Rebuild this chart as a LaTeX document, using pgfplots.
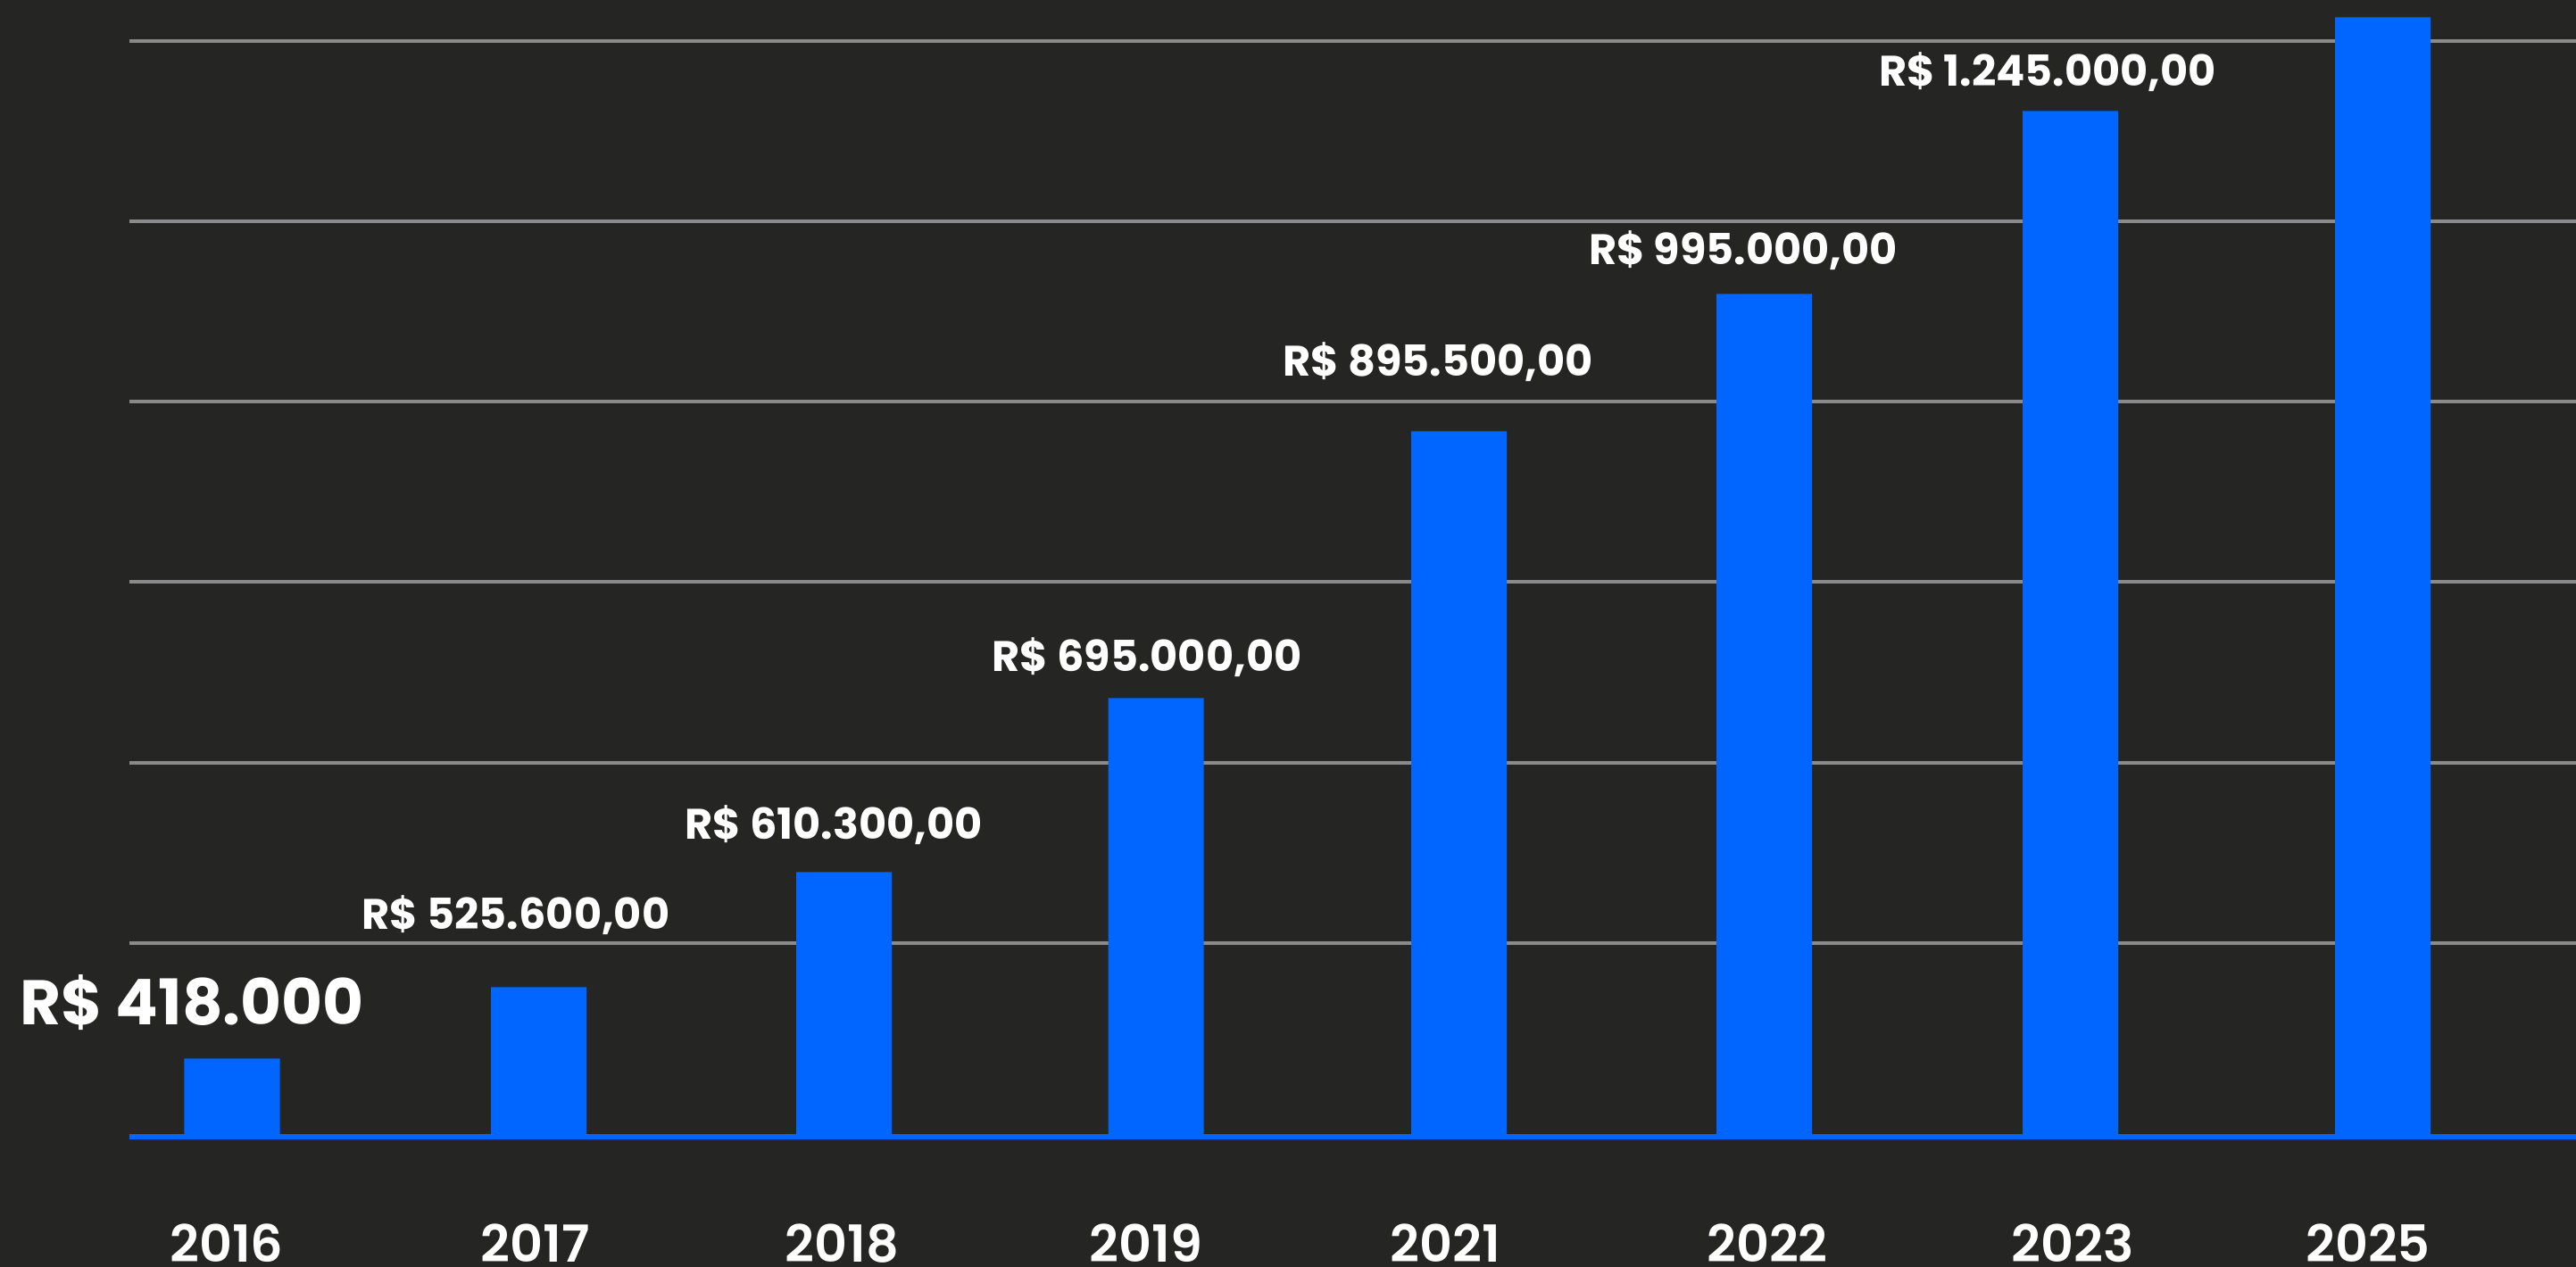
\documentclass[border=0pt]{standalone}
\usepackage{fontspec}
\setmainfont{Poppins}
\newfontfamily\popsemi{Poppins SemiBold}
\usepackage{pgfplots}
\pgfplotsset{compat=1.18}
\definecolor{bgCol}{RGB}{37,37,35}
\definecolor{barCol}{RGB}{0,102,255}
\definecolor{gridCol}{RGB}{138,138,138}
\tikzset{
  val/.style={anchor=base,text=white,inner sep=0pt,
              font=\bfseries\fontsize{13.6}{14}\selectfont},
}
\begin{document}
\begin{tikzpicture}
\fill[bgCol] (0,0) rectangle (28.86cm,14.2cm);
\begin{axis}[
  at={(1.45cm,1.487cm)}, anchor=south west,
  scale only axis, width=27.41cm, height=12.713cm,
  xmin=145, xmax=2886, ymin=0, ymax=1271.3,
  clip=false,
  axis line style={draw=none}, major tick length=0pt,
  ymajorgrids, ytick={214,416.3,618.8,821,1023.3,1225.3}, yticklabels={},
  grid style={gridCol, line width=0.4mm},
  xtick={254,600,943.5,1284,1619.6,1980,2322,2653},
  xticklabels={2016,2017,2018,2019,2021,2022,2023,2025},
  xticklabel style={anchor=base, yshift=-14.37mm, text=white, inner sep=0pt,
                    font=\popsemi\fontsize{16.3}{17}\selectfont},
]
  \addplot[ybar, fill=barCol, draw=none, bar width=107]
    coordinates {(260,85) (603.5,165) (945.5,294) (1295,489)
                 (1634.5,788) (1976.5,942) (2319.5,1147) (2669.5,1252)};
  \draw[barCol, line width=0.6mm] (axis cs:145,-3) -- (axis cs:2886,-3);
  \node[val, font=\bfseries\fontsize{20.1}{21}\selectfont] at (axis cs:215,122.3) {R\$ 418.000};
  \node[val] at (axis cs:578,229.6) {R\$ 525.600,00};
  \node[val] at (axis cs:934,330.6) {R\$ 610.300,00};
  \node[val] at (axis cs:1285,518.6) {R\$ 695.000,00};
  \node[val] at (axis cs:1611,849.6) {R\$ 895.500,00};
  \node[val] at (axis cs:1953,974.6) {R\$ 995.000,00};
  \node[val] at (axis cs:2294,1174.6) {R\$ 1.245.000,00};
\end{axis}
\pgfresetboundingbox
\path[use as bounding box] (0,0) rectangle (28.86cm,14.2cm);
\end{tikzpicture}
\end{document}
